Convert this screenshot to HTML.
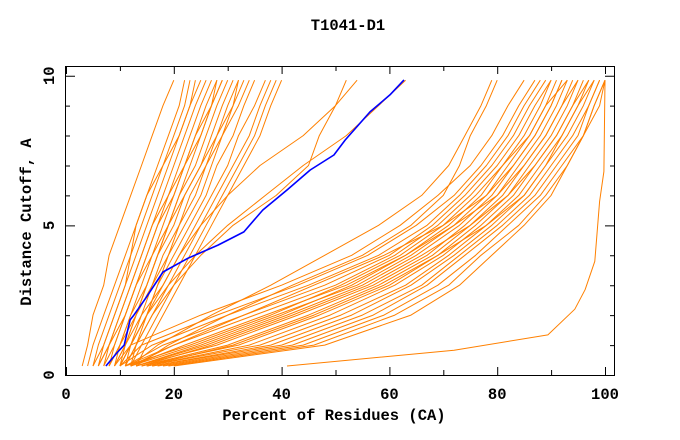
<!DOCTYPE html>
<html><head><meta charset="utf-8"><style>
body{margin:0;background:#fff}
svg{display:block}
text{font-family:"Liberation Mono","DejaVu Sans Mono",monospace;font-weight:bold;fill:#000}
</style></head><body>
<svg id="chart" width="680" height="440" xmlns="http://www.w3.org/2000/svg">
<text x="348" y="30" text-anchor="middle" font-size="15.5">T1041-D1</text>
<text x="334" y="420" text-anchor="middle" font-size="15.5">Percent of Residues (CA)</text>
<text transform="translate(31,222) rotate(-90)" text-anchor="middle" font-size="15.5">Distance Cutoff, A</text>
<g id="ticks"></g><g id="series"></g>
<rect x="65.5" y="66.5" width="549" height="309" fill="none" stroke="#000" stroke-width="1"/>
</svg>
<script>
const xTicks=[0,20,40,60,80,100];
const yTickLabels=[0,5,10];
const dLevels=[0.3,1,2,3,4,5,6,7,8,9,9.85];
const leftGroup=[
[3,4,5,7,8,10,12,14,16,18,20],[4,5,7,9,11,13,15,17,19,21,22],[5,6,8,10,12,13,15,18,20,22,23],
[5,7,9,11,12,14,16,18,21,23,25],[6,7,9,11,13,15,17,19,21,23,24],[6,8,10,12,14,16,18,20,22,24,26],
[7,8,10,12,14,16,19,21,23,25,27],[7,9,11,13,15,17,19,22,24,26,28],[8,9,11,13,16,18,20,22,25,27,29],
[8,10,12,14,16,19,21,23,25,27,29],[9,10,12,15,17,19,22,25,27,29,31],[9,11,13,15,17,20,22,25,28,30,32],
[10,11,13,16,18,21,23,26,28,31,33],[10,12,14,16,19,22,25,27,29,32,34],[11,12,15,17,20,23,26,28,31,33,35],
[11,13,15,18,21,24,27,30,32,35,37],[12,13,16,19,22,25,28,31,34,36,38],[12,14,17,20,23,26,29,32,35,37,39],
[8,10,13,15,17,19,21,24,26,28,30],[6,8,11,13,15,17,20,22,24,27,28],[10,12,15,17,19,21,24,26,29,31,32],
[13,15,18,21,24,27,30,33,36,38,40]];
const midGroup=[
[9,11,14,18,21,25,30,36,44,50,54],[10,12,15,19,24,30,37,44,52,58,63],[11,13,16,20,25,31,39,45,47,50,52]];
const rightGroup=[
[9,12,25,40,53,62,69,75,79,82,85],[10,14,28,43,56,65,72,77,81,84,87],[10,16,30,45,58,67,73,78,82,85,88],
[11,18,33,48,60,68,74,79,83,86,89],[11,20,35,50,61,69,75,80,84,87,90],[12,22,37,52,63,71,77,81,85,88,90],
[12,24,39,54,64,72,78,82,86,89,91],[13,26,41,55,65,73,79,83,87,90,92],[13,28,43,57,67,74,80,84,88,91,93],
[14,30,45,58,68,75,81,85,89,92,94],[14,32,47,60,69,76,82,86,90,93,95],[15,34,49,61,70,77,83,87,91,94,96],
[15,36,51,63,71,78,84,88,92,95,97],[16,38,53,64,72,79,85,89,93,96,98],[16,40,55,66,73,80,86,90,94,97,99],
[17,42,57,67,74,81,87,91,95,97,99],[18,44,59,69,76,82,88,92,96,98,100],[19,46,61,71,77,84,89,93,96,98,100],
[20,48,64,73,79,85,90,93,96,99,100],[12,20,33,46,59,70,78,83,87,90,92],[13,25,40,53,63,72,80,85,89,92,95],
[14,27,42,56,66,75,82,87,91,94,97],[11,23,38,51,62,70,76,81,86,89,93],[15,31,46,59,69,78,85,89,92,95,98],
[12,17,27,38,48,58,66,71,74,77,79],[13,19,30,42,55,64,70,73,75,78,80]];
const outlierPct=[41,72,89.4,94.4,96.3,98.1,99,99.8,100];
const outlierD=[0.3,0.83,1.34,2.2,2.85,3.8,5.8,6.8,9.85];
const bluePct=[7.4,9.6,10.8,11.9,12.6,14.8,18.0,22.6,28.2,33.0,36.5,41.0,45.3,49.7,51.8,56.4,60.1,62.7];
const blueD=[0.3,0.77,1.0,1.84,2.0,2.57,3.44,3.9,4.34,4.78,5.51,6.18,6.85,7.35,7.85,8.79,9.36,9.86];

const X=p=>66+p*5.39, Y=d=>375-d*29.93;
const NS="http://www.w3.org/2000/svg";
const tk=document.getElementById('ticks'), sr=document.getElementById('series');
function mk(tag,attrs,parent){const e=document.createElementNS(NS,tag);for(const k in attrs)e.setAttribute(k,attrs[k]);parent.appendChild(e);return e;}
for(let p=0;p<=100;p+=10){
  const len=(p%20===0)?8:5;
  const t=mk('path',{d:`M${X(p)+0.5},375V${375-len}M${X(p)+0.5},66V${66+len}`,stroke:'#000'},tk);
  
  
}
xTicks.forEach(v=>{const t=mk('text',{x:X(v),y:399,'text-anchor':'middle','font-size':'15.5'},tk);t.textContent=v;
  
  });
for(let d=0;d<=10;d++){
  const len=(d%5===0)?10:5;
  const t=mk('path',{d:`M65,${Y(d)+0.5}H${65+len}M615,${Y(d)+0.5}H${615-len}`,stroke:'#000'},tk);
  
  
}
yTickLabels.forEach(v=>{const t=mk('text',{transform:`translate(54,${Y(v)}) rotate(-90)`,'text-anchor':'middle','font-size':'15.5'},tk);t.textContent=v;
  
  });
function line(ps,ds,color,w,name){
  const d=ps.map((p,i)=>(i?'L':'M')+X(p).toFixed(1)+','+Y(ds[i]).toFixed(1)).join('');
  const e=mk('path',{d:d,fill:'none',stroke:color,'stroke-width':w,'stroke-linejoin':'round'},sr);
  
  
}
leftGroup.forEach(a=>line(a,dLevels,'#ff8000',1,'model-line'));
midGroup.forEach(a=>line(a,dLevels,'#ff8000',1,'model-line'));
rightGroup.forEach(a=>line(a,dLevels,'#ff8000',1,'model-line'));
line(outlierPct,outlierD,'#ff8000',1,'outlier-model-line');
line(bluePct,blueD,'#0000ff',1.6,'highlighted-model-line');
</script>
</body></html>
